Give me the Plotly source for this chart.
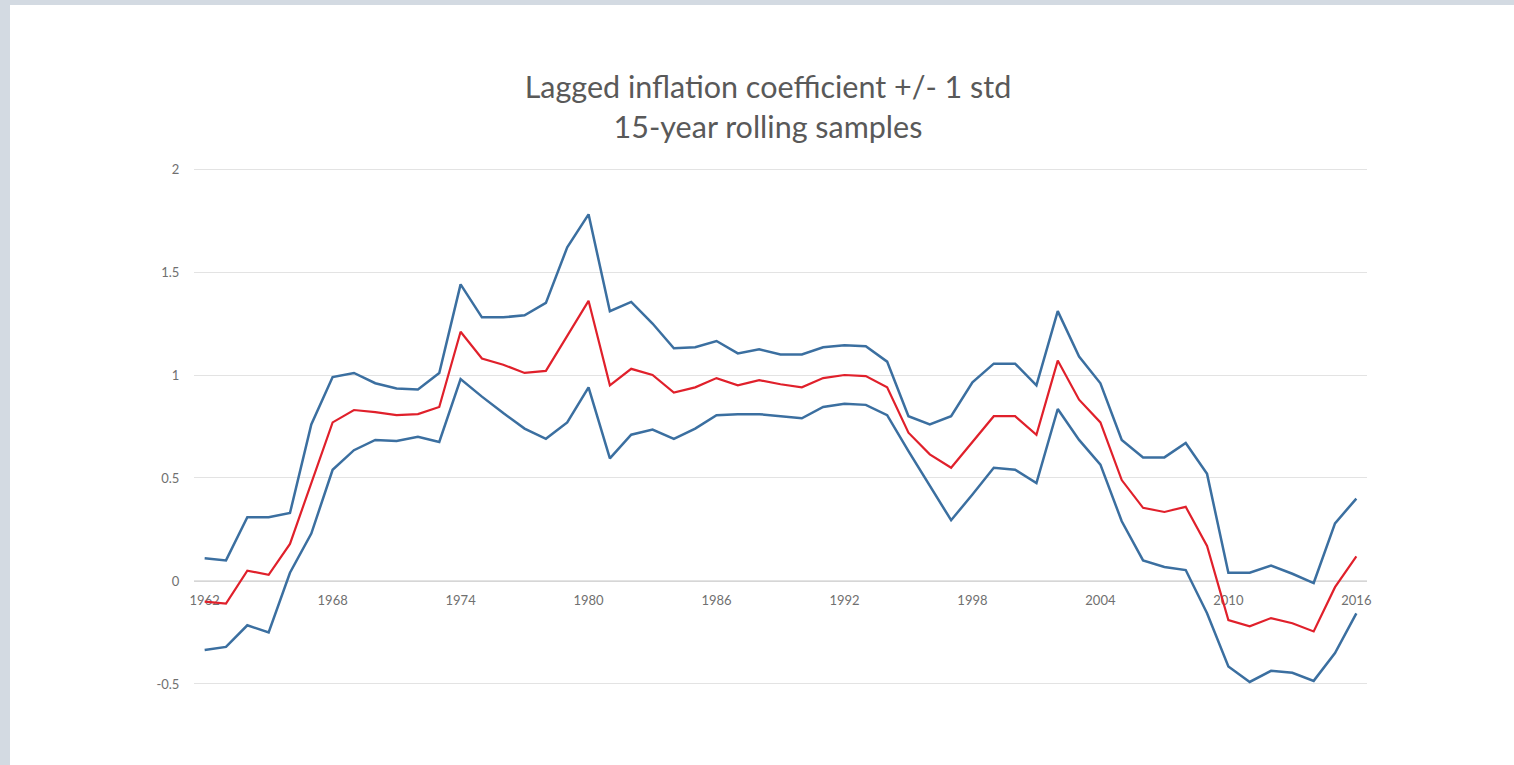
import plotly.graph_objects as go

# Rolling-sample estimates, one per end year
years = [1962, 1963, 1964, 1965, 1966, 1967, 1968, 1969, 1970, 1971,
         1972, 1973, 1974, 1975, 1976, 1977, 1978, 1979, 1980, 1981,
         1982, 1983, 1984, 1985, 1986, 1987, 1988, 1989, 1990, 1991,
         1992, 1993, 1994, 1995, 1996, 1997, 1998, 1999, 2000, 2001,
         2002, 2003, 2004, 2005, 2006, 2007, 2008, 2009, 2010, 2011,
         2012, 2013, 2014, 2015, 2016]

coef_plus_std = [0.11, 0.10, 0.31, 0.31, 0.33, 0.76, 0.99, 1.01, 0.96, 0.935,
                 0.93, 1.01, 1.44, 1.28, 1.28, 1.29, 1.35, 1.62, 1.78, 1.31,
                 1.355, 1.25, 1.13, 1.135, 1.165, 1.105, 1.125, 1.10, 1.10, 1.135,
                 1.145, 1.14, 1.065, 0.80, 0.76, 0.80, 0.965, 1.055, 1.055, 0.95,
                 1.31, 1.09, 0.96, 0.685, 0.60, 0.60, 0.67, 0.52, 0.04, 0.04,
                 0.075, 0.035, -0.01, 0.28, 0.40]

coef = [-0.10, -0.11, 0.05, 0.03, 0.18, 0.48, 0.77, 0.83, 0.82, 0.805,
        0.81, 0.845, 1.21, 1.08, 1.05, 1.01, 1.02, 1.19, 1.36, 0.95,
        1.03, 1.00, 0.915, 0.94, 0.985, 0.95, 0.975, 0.955, 0.94, 0.985,
        1.00, 0.995, 0.94, 0.72, 0.615, 0.55, 0.675, 0.80, 0.80, 0.71,
        1.07, 0.88, 0.77, 0.49, 0.355, 0.335, 0.36, 0.17, -0.19, -0.22,
        -0.18, -0.205, -0.245, -0.03, 0.12]

coef_minus_std = [-0.335, -0.32, -0.215, -0.25, 0.04, 0.23, 0.54, 0.635, 0.685, 0.68,
                  0.70, 0.675, 0.98, 0.895, 0.815, 0.74, 0.69, 0.77, 0.94, 0.595,
                  0.71, 0.735, 0.69, 0.74, 0.805, 0.81, 0.81, 0.80, 0.79, 0.845,
                  0.86, 0.855, 0.805, 0.63, 0.46, 0.295, 0.42, 0.55, 0.54, 0.475,
                  0.835, 0.685, 0.565, 0.29, 0.10, 0.068, 0.053, -0.157, -0.415, -0.49,
                  -0.436, -0.446, -0.485, -0.35, -0.157]

x_tick_years = [1962, 1968, 1974, 1980, 1986, 1992, 1998, 2004, 2010, 2016]
y_tick_values = [-0.5, 0, 0.5, 1, 1.5, 2]
y_tick_labels = ["-0.5", "0", "0.5", "1", "1.5", "2"]

BLUE = "#3b6fa0"
RED = "#e0202b"
GRID = "#e3e3e3"
TEXT = "#707070"
FRAME = "#d3dae2"

fig = go.Figure()
fig.add_trace(go.Scatter(x=years, y=coef_plus_std, mode="lines",
                         line=dict(color=BLUE, width=2.5), name="+1 std"))
fig.add_trace(go.Scatter(x=years, y=coef, mode="lines",
                         line=dict(color=RED, width=2.2), name="coefficient"))
fig.add_trace(go.Scatter(x=years, y=coef_minus_std, mode="lines",
                         line=dict(color=BLUE, width=2.5), name="-1 std"))

W, H = 1514, 765
ML, MR, MT, MB = 194, 147, 168, 80
plot_w = W - ML - MR
plot_h = H - MT - MB

# small padding so the outermost grid lines (2 and -0.5) are still drawn
y_lo, y_hi = -0.505, 2.005

fig.update_layout(
    width=W, height=H,
    margin=dict(l=ML, r=MR, t=MT, b=MB, pad=0),
    paper_bgcolor="white",
    plot_bgcolor="white",
    showlegend=False,
    font=dict(family="Lato, 'Open Sans', sans-serif", color=TEXT),
    title=dict(
        text="Lagged inflation coefficient +/- 1 std<br>15-year rolling samples",
        font=dict(size=30.5, color="#595959", family="Lato, sans-serif"),
        x=768 / W, xref="container", xanchor="center",
        y=1 - 98 / H, yref="container", yanchor="top",
    ),
    xaxis=dict(
        range=[years[0] - 0.5, years[-1] + 0.5],
        tickvals=x_tick_years,
        ticktext=[str(v) for v in x_tick_years],
        anchor="free",
        position=(0 - y_lo) / (y_hi - y_lo),
        showline=True, linecolor="#d6d6d6", linewidth=1,
        showgrid=False, zeroline=False,
        ticks="outside", ticklen=7, tickcolor="rgba(0,0,0,0)",
        tickfont=dict(size=13, color=TEXT),
        layer="below traces",
        fixedrange=True,
    ),
    yaxis=dict(
        range=[y_lo, y_hi],
        tickvals=y_tick_values,
        ticktext=y_tick_labels,
        showgrid=True, gridcolor=GRID, gridwidth=1,
        zeroline=False, showline=False,
        ticks="outside", ticklen=11, tickcolor="rgba(0,0,0,0)",
        tickfont=dict(size=13, color=TEXT),
        fixedrange=True,
    ),
)

# Thin frame strips along the left and top edges of the page
def px_x(p):
    return (p - ML) / plot_w

def px_y(q):
    return (H - MB - q) / plot_h

fig.add_shape(type="rect", xref="paper", yref="paper",
              x0=px_x(0), x1=px_x(10), y0=px_y(H), y1=px_y(0),
              fillcolor=FRAME, line_width=0, layer="above")
fig.add_shape(type="rect", xref="paper", yref="paper",
              x0=px_x(0), x1=px_x(W), y0=px_y(5), y1=px_y(0),
              fillcolor=FRAME, line_width=0, layer="above")

fig.write_html("out.html")
